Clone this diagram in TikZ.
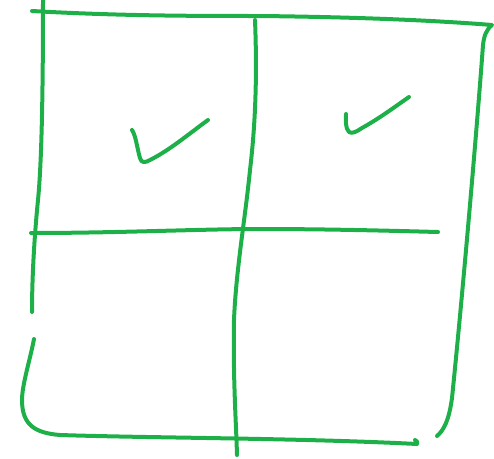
\documentclass[tikz,border=0pt]{standalone}
\definecolor{penGreen}{RGB}{30,176,72}
\begin{document}
\begin{tikzpicture}[x=1pt,y=-1pt,
  pen/.style={draw=penGreen,line width=4pt,line cap=round,line join=round}]
\useasboundingbox (0,0) rectangle (494,458);
% top edge with right-hand curl
\draw[pen] (32,11) .. controls (120,16) and (200,16) .. (260,16)
  .. controls (350,17) and (430,20) .. (492,25)
  .. controls (486,30) and (484,36) .. (483,45);
% right edge
\draw[pen] (483,45) .. controls (476,140) and (462,300) .. (452,398)
  .. controls (449,420) and (444,430) .. (437,436);
% left edge, upper part
\draw[pen] (43,0) .. controls (43,80) and (42,160) .. (38,200)
  .. controls (34,240) and (32,280) .. (32,312);
% left edge lower part and bottom edge
\draw[pen] (34,339) .. controls (30,360) and (22,385) .. (22,400)
  .. controls (22,425) and (35,433) .. (60,435)
  .. controls (150,438) and (300,438) .. (417,444)
  .. controls (418,442) and (417,441) .. (415,440);
% middle vertical
\draw[pen] (255,20) .. controls (257,70) and (256,120) .. (250,170)
  .. controls (245,220) and (236,270) .. (234,320)
  .. controls (233,380) and (236,420) .. (237,455);
% middle horizontal
\draw[pen] (31,233) .. controls (120,233) and (200,229) .. (260,229)
  .. controls (330,229) and (400,231) .. (438,232);
% checkmarks
\draw[pen] (132,130) .. controls (136,136) and (137,148) .. (140,158)
  .. controls (141,163) and (145,163) .. (150,160)
  .. controls (170,150) and (190,133) .. (208,120);
\draw[pen] (346,114) .. controls (346,120) and (345,128) .. (349,132)
  .. controls (352,134) and (356,132) .. (362,128)
  .. controls (380,118) and (396,106) .. (409,97);
\end{tikzpicture}
\end{document}
